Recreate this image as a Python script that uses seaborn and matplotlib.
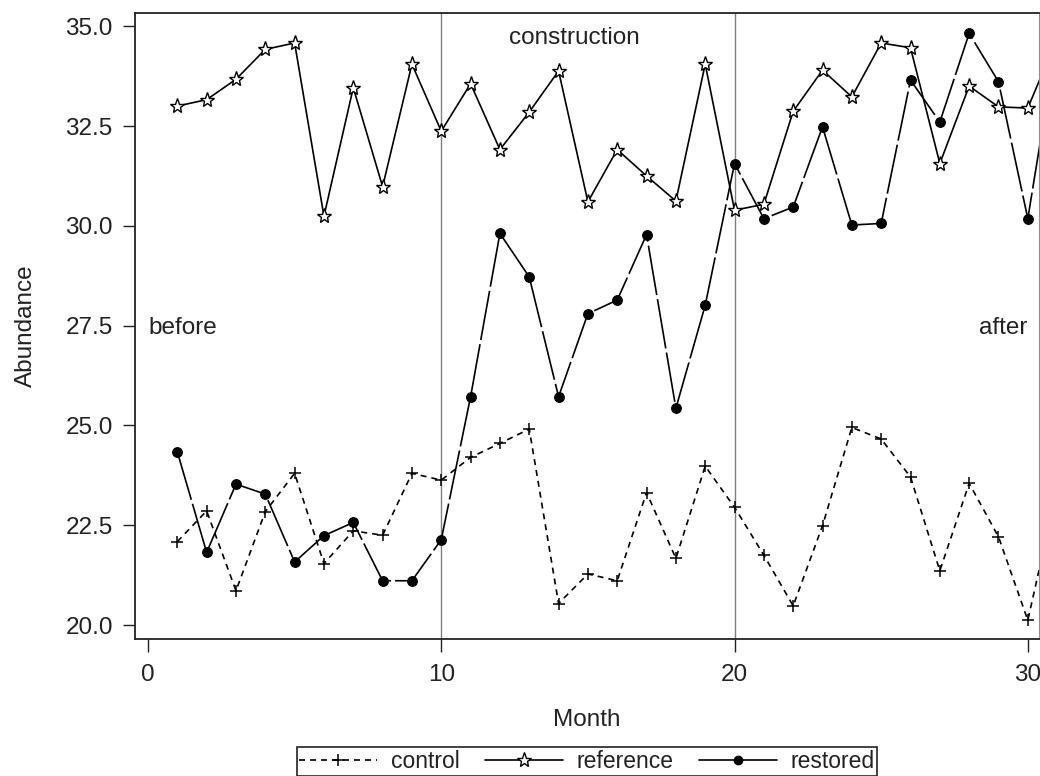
import matplotlib
matplotlib.use('Agg')
import matplotlib.pyplot as plt
from matplotlib.lines import Line2D
from matplotlib.ticker import FormatStrFormatter
import pandas as pd
import seaborn as sns

# Monthly abundance per site (month 31 only shows as the line leaving the frame)
months = list(range(1, 32))
control = [22.09, 22.86, 20.86, 22.84, 23.80, 21.54, 22.36, 22.25, 23.80, 23.63,
           24.20, 24.55, 24.91, 20.54, 21.28, 21.11, 23.32, 21.67, 23.98, 22.95,
           21.75, 20.48, 22.49, 24.95, 24.66, 23.71, 21.36, 23.55, 22.21, 20.12,
           23.4]
reference = [33.00, 33.16, 33.67, 34.42, 34.58, 30.24, 33.46, 30.98, 34.05, 32.37,
             33.56, 31.91, 32.85, 33.88, 30.60, 31.91, 31.25, 30.62, 34.05, 30.39,
             30.54, 32.87, 33.90, 33.23, 34.58, 34.46, 31.56, 33.50, 32.98, 32.95,
             34.7]
restored = [24.34, 21.82, 23.53, 23.28, 21.58, 22.24, 22.57, 21.11, 21.11, 22.14,
            25.72, 29.81, 28.72, 25.72, 27.80, 28.14, 29.78, 25.43, 28.01, 31.56,
            30.18, 30.47, 32.48, 30.02, 30.06, 33.65, 32.60, 34.82, 33.61, 30.18,
            34.7]

phase_breaks = [10, 20]
x_ticks = [0, 10, 20, 30]
y_ticks = [20.0, 22.5, 25.0, 27.5, 30.0, 32.5, 35.0]

df = pd.DataFrame({'Month': months, 'control': control,
                   'reference': reference, 'restored': restored})

sns.set_theme(style='ticks')
plt.rcParams['font.family'] = ['Liberation Sans', 'DejaVu Sans']
plt.rcParams['font.size'] = 17.5

fig = plt.figure(figsize=(10.4, 7.76), dpi=100)
ax = fig.add_axes([0.1298, 0.1765, 0.8692, 0.8067])

# phase boundaries
for b in phase_breaks:
    ax.axvline(b, color='#808080', lw=1.0, zorder=1)

sns.lineplot(data=df, x='Month', y='control', ax=ax, color='black', lw=1.2,
             linestyle=(0, (3.6, 3.0)), marker='+', ms=9, mew=1.1, mec='black',
             legend=False, zorder=3)
sns.lineplot(data=df, x='Month', y='reference', ax=ax, color='black', lw=1.2,
             marker='*', ms=11, mfc='white', mew=1.0, mec='black',
             legend=False, zorder=3)
sns.lineplot(data=df, x='Month', y='restored', ax=ax, color='black', lw=1.2,
             linestyle=(0, (30, 2.5)), marker='o', ms=7, mfc='black', mew=0.8,
             mec='black', legend=False, zorder=3)

ax.set_xlim(-0.443, 30.38)
ax.set_ylim(19.65, 35.33)
ax.set_xticks(x_ticks)
ax.set_yticks(y_ticks)
ax.yaxis.set_major_formatter(FormatStrFormatter('%.1f'))
ax.tick_params(direction='out', length=9, width=1.0, color='#222222',
               labelsize=17.5, labelcolor='#222222')
ax.tick_params(axis='x', pad=9)
ax.tick_params(axis='y', pad=7)

for side in ['left', 'bottom', 'top']:
    ax.spines[side].set_color('#222222')
    ax.spines[side].set_linewidth(1.3)
ax.spines['right'].set_color('#909090')
ax.spines['right'].set_linewidth(0.8)

ax.set_xlabel('Month', fontsize=17.5, color='#222222')
ax.set_ylabel('Abundance', fontsize=17.5, color='#222222')
ax.xaxis.set_label_coords(0.5, -0.112)
ax.yaxis.set_label_coords(-0.108, 0.5)

# phase annotations
ax.text(0, 27.28, 'before', ha='left', va='baseline', fontsize=17.5, color='#222222')
ax.text(30, 27.28, 'after', ha='right', va='baseline', fontsize=17.5, color='#222222')
ax.text(14.55, 34.55, 'construction', ha='center', va='baseline', fontsize=17.5,
        color='#222222')

handles = [
    Line2D([], [], color='black', lw=1.2, linestyle=(0, (3.6, 3.0)),
           marker='+', ms=9, mew=1.1),
    Line2D([], [], color='black', lw=1.2, marker='*', ms=11, mfc='white',
           mec='black', mew=1.0),
    Line2D([], [], color='black', lw=1.2, marker='o', ms=6),
]
leg = fig.legend(handles, ['control', 'reference', 'restored'],
                 loc='upper center', bbox_to_anchor=(587 / 1040, 29 / 776),
                 ncol=3, fontsize=16.5, frameon=True, fancybox=False,
                 framealpha=1, edgecolor='#222222', handlelength=3.4,
                 handletextpad=0.6, columnspacing=1.1, borderpad=0.12,
                 borderaxespad=0)
leg.get_frame().set_linewidth(1.2)
for t in leg.get_texts():
    t.set_color('#222222')

fig.savefig('out.png', dpi=100)
